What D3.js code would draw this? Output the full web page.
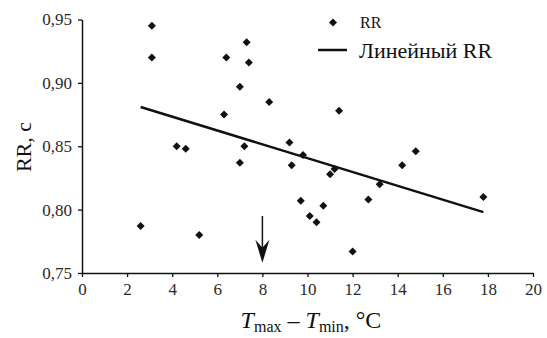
<!DOCTYPE html>
<html>
<head>
<meta charset="utf-8">
<script src="https://cdn.jsdelivr.net/npm/d3@7"></script>
<style>
  body { margin: 0; background: #fff; }
  svg text { font-family: "Liberation Serif", "DejaVu Serif", serif !important; fill: #111; }
</style>
</head>
<body>
<div class="chart"></div>
<script>
// T max - T min, degC
var tempRange = [2.6, 3.1, 3.1, 4.2, 4.6, 5.2, 6.3, 6.4, 7.0, 7.0, 7.2, 7.3, 7.4, 8.3, 9.2,
                 9.3, 9.7, 9.8, 10.1, 10.4, 10.7, 11.0, 11.2, 11.4, 12.0, 12.7, 13.2, 14.2, 14.8, 17.8];
// RR, s
var rrValues = [0.787, 0.945, 0.920, 0.850, 0.848, 0.780, 0.875, 0.920, 0.897, 0.837, 0.850, 0.932, 0.916, 0.885, 0.853,
                0.835, 0.807, 0.843, 0.795, 0.790, 0.803, 0.828, 0.832, 0.878, 0.767, 0.808, 0.820, 0.835, 0.846, 0.810];
var trendX = [2.6, 17.8];
var trendY = [0.881, 0.798];
var arrowX = 8;
var arrowY = [0.795, 0.758];
var xTicks = [0, 2, 4, 6, 8, 10, 12, 14, 16, 18, 20];
var yTicks = [0.75, 0.80, 0.85, 0.90, 0.95];

var width = 547, height = 338;
var x = d3.scaleLinear().domain([0, 20]).range([82, 533]);
var y = d3.scaleLinear().domain([0.75, 0.95]).range([273, 19.5]);

var svg = d3.select(".chart").append("svg")
    .attr("width", width)
    .attr("height", height);

var fmt = function(d) { return d3.format(".2f")(d).replace(".", ","); };

// axes
var gx = svg.append("g")
    .attr("transform", "translate(0," + y(0.75) + ")")
    .call(d3.axisBottom(x).tickValues(xTicks).tickSize(4).tickSizeOuter(0).tickPadding(6));
var gy = svg.append("g")
    .attr("transform", "translate(" + x(0) + ",0)")
    .call(d3.axisLeft(y).tickValues(yTicks).tickFormat(fmt).tickSize(4).tickSizeOuter(0).tickPadding(6));

[gx, gy].forEach(function(g) {
  g.attr("font-family", null).attr("font-size", null);
  g.select(".domain").attr("stroke", "#111").attr("stroke-width", 1.5);
  g.selectAll(".tick line").attr("stroke", "#111").attr("stroke-width", 1.3);
  g.selectAll(".tick text")
      .style("font-size", "17px")
      .style("fill", "#2a2a2a");
});

// trend line
svg.append("line")
    .attr("x1", x(trendX[0])).attr("y1", y(trendY[0]))
    .attr("x2", x(trendX[1])).attr("y2", y(trendY[1]))
    .attr("stroke", "#111").attr("stroke-width", 2.5);

// points
var diamond = d3.symbol().type(d3.symbolSquare).size(32);
svg.selectAll(".pt")
    .data(tempRange.map(function(t, i) { return [t, rrValues[i]]; }))
    .enter().append("path")
    .attr("class", "pt")
    .attr("d", diamond)
    .attr("fill", "#111")
    .attr("transform", function(d) { return "translate(" + x(d[0]) + "," + y(d[1]) + ") rotate(45)"; });

// arrow at 8
var ax = x(arrowX), ay0 = y(arrowY[0]), ay1 = y(arrowY[1]);
svg.append("line")
    .attr("x1", ax).attr("y1", ay0).attr("x2", ax).attr("y2", ay1 - 10)
    .attr("stroke", "#111").attr("stroke-width", 1.5);
svg.append("path")
    .attr("d", "M" + ax + "," + ay1 + " L" + (ax - 7) + "," + (ay1 - 23) + " L" + ax + "," + (ay1 - 15) +
               " L" + (ax + 7) + "," + (ay1 - 23) + " Z")
    .attr("fill", "#111");

// axis titles
svg.append("text")
    .attr("transform", "translate(31,147) rotate(-90)")
    .attr("text-anchor", "middle")
    .attr("font-size", 22)
    .text("RR, с");

var xt = svg.append("text")
    .attr("x", 311).attr("y", 328)
    .attr("text-anchor", "middle")
    .attr("font-size", 24);
xt.append("tspan").attr("font-style", "italic").text("T");
xt.append("tspan").attr("font-size", 16).attr("dy", 4).text("max");
xt.append("tspan").attr("dy", -4).text(" \u2013 ");
xt.append("tspan").attr("font-style", "italic").text("T");
xt.append("tspan").attr("font-size", 16).attr("dy", 4).text("min");
xt.append("tspan").attr("dy", -4).text(", °C");

// legend
svg.append("path")
    .attr("d", diamond)
    .attr("fill", "#111")
    .attr("transform", "translate(333,22.5) rotate(45)");
svg.append("text").attr("x", 360).attr("y", 27.5).attr("font-size", 16).text("RR");
svg.append("line")
    .attr("x1", 318).attr("x2", 347).attr("y1", 50).attr("y2", 50)
    .attr("stroke", "#111").attr("stroke-width", 2.5);
svg.append("text").attr("x", 359).attr("y", 58).attr("font-size", 22).text("Линейный RR");
</script>
</body>
</html>
